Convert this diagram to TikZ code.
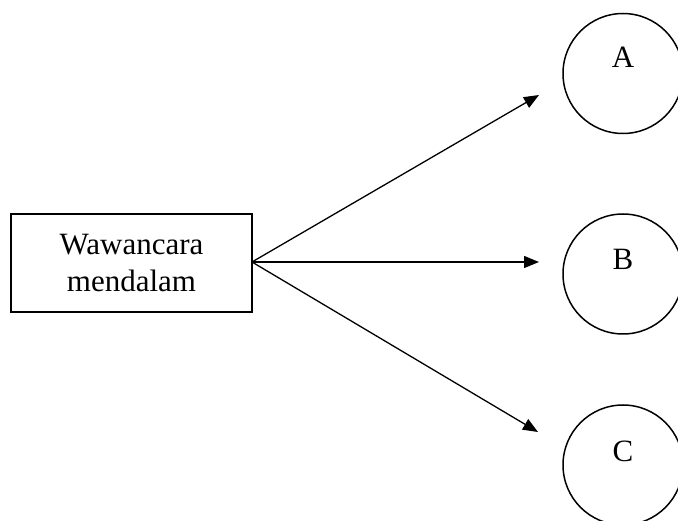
\documentclass[tikz,border=0pt]{standalone}
\usepackage{fontspec}
\setmainfont{Liberation Serif}
\usetikzlibrary{arrows.meta}
\begin{document}
\begin{tikzpicture}[x=1pt,y=1pt,
  every node/.style={font=\fontsize{31}{36}\selectfont, inner sep=0pt},
  box/.style={draw, line width=1.5pt, minimum width=241pt, minimum height=98pt},
  ring/.style={draw, line width=1.5pt, circle, minimum size=120pt},
  conn/.style={line width=1.3pt, -{Triangle[length=15pt,width=12pt]}},
  lbl/.style={anchor=base}]
\useasboundingbox (0,0) rectangle (678,-521);
\clip (0,0) rectangle (678,-521);
\node[box] (src) at (131.5,-263) {};
\node[lbl] (l1) at (131.5,-255) {Wawancara};
\node[lbl] (l2) at (131.5,-292) {mendalam};
\node[ring] (A) at (623,-73.5) {};
\node[ring] (B) at (623,-274) {};
\node[ring] (C) at (623,-465) {};
\node[lbl] (tA) at (623,-68) {A};
\node[lbl] (tB) at (623,-270) {B};
\node[lbl] (tC) at (623,-462) {C};
\coordinate (o) at (252,-262);
\coordinate (ea) at (539,-95);
\coordinate (eb) at (539,-262);
\coordinate (ec) at (538,-432);
\draw[conn] (o) -- (ea);
\draw[conn] (o) -- (eb);
\draw[conn] (o) -- (ec);
\end{tikzpicture}
\end{document}
